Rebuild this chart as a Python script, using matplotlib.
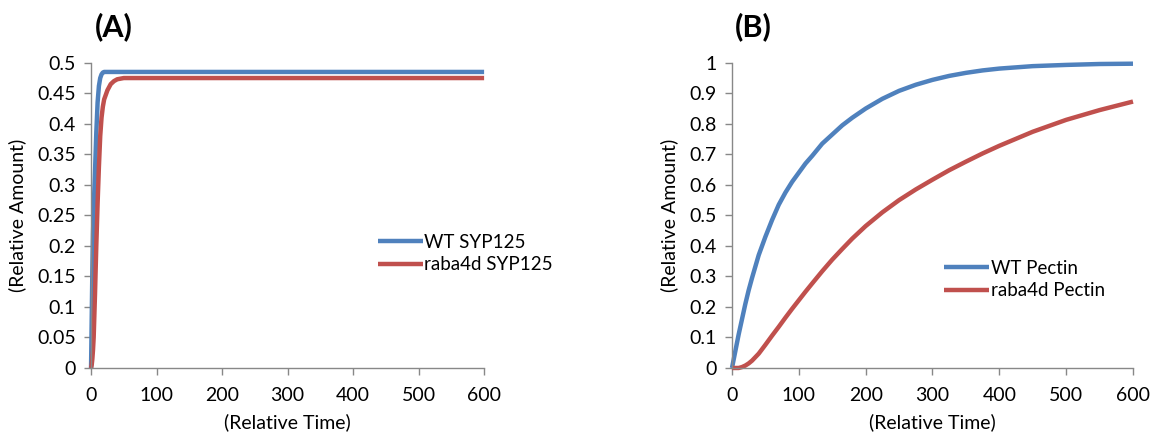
import matplotlib
matplotlib.use("Agg")
import matplotlib.pyplot as plt

plt.rcParams["font.family"] = ["Lato", "DejaVu Sans"]

# Panel A: SYP125
t_a = [0, 1, 2, 3, 4, 5, 6, 8, 10, 12, 14, 16, 18, 20, 25, 30, 35, 40, 50, 60, 100, 200, 300, 400, 500, 600]
wt_syp = [0, 0.08, 0.16, 0.22, 0.26, 0.29, 0.32, 0.385, 0.435, 0.462, 0.475, 0.481, 0.484, 0.485, 0.485,
          0.485, 0.485, 0.485, 0.485, 0.485, 0.485, 0.485, 0.485, 0.485, 0.485, 0.485]
raba_syp = [0, 0.005, 0.015, 0.03, 0.05, 0.085, 0.12, 0.2, 0.27, 0.33, 0.38, 0.41, 0.428, 0.44, 0.455,
            0.465, 0.47, 0.473, 0.475, 0.475, 0.475, 0.475, 0.475, 0.475, 0.475, 0.475]

# Panel B: Pectin
t_b = [0, 5, 10, 15, 20, 25, 30, 40, 50, 60, 70, 80, 90, 100, 110, 120, 135, 150, 165, 180, 200, 225,
       250, 275, 300, 325, 350, 375, 400, 450, 500, 550, 600]
wt_pectin = [0, 0.055, 0.11, 0.16, 0.21, 0.255, 0.295, 0.37, 0.43, 0.485, 0.535, 0.575, 0.61, 0.64, 0.67,
             0.695, 0.735, 0.765, 0.795, 0.82, 0.85, 0.882, 0.908, 0.928, 0.944, 0.957, 0.967, 0.975,
             0.981, 0.989, 0.993, 0.996, 0.997]
raba_pectin = [0, 0.0, 0.0, 0.003, 0.008, 0.015, 0.024, 0.047, 0.076, 0.106, 0.135, 0.165, 0.194, 0.222,
               0.25, 0.277, 0.317, 0.355, 0.39, 0.424, 0.465, 0.51, 0.55, 0.585, 0.617, 0.648, 0.676,
               0.703, 0.728, 0.774, 0.813, 0.845, 0.873]

blue = "#4F81BD"
red = "#C0504D"
axis_gray = "#888888"
font_size = 14

fig = plt.figure(figsize=(11.54, 4.36), dpi=100)
ax_a = fig.add_axes([0.0789, 0.156, 0.3406, 0.70])
ax_b = fig.add_axes([0.6343, 0.156, 0.3475, 0.70])


def style_axis(ax, yticks, ylabels):
	ax.set_xlim(0, 600)
	ax.set_xticks(range(0, 601, 100))
	ax.set_ylim(0, yticks[-1])
	ax.set_yticks(yticks)
	ax.set_yticklabels(ylabels)
	for side in ["top", "right"]:
		ax.spines[side].set_visible(False)
	for side in ["left", "bottom"]:
		ax.spines[side].set_color(axis_gray)
		ax.spines[side].set_linewidth(1.0)
	ax.tick_params(direction="out", length=5, width=1.0, color=axis_gray, labelsize=font_size, labelcolor="black")
	ax.tick_params(axis="x", pad=9)
	ax.tick_params(axis="y", pad=6)
	ax.set_xlabel("(Relative Time)", fontsize=font_size, labelpad=6)
	ax.set_ylabel("(Relative Amount)", fontsize=font_size, labelpad=8)


ax_a.plot(t_a, wt_syp, color=blue, lw=3.2, label="WT SYP125", solid_capstyle="butt", clip_on=False)
ax_a.plot(t_a, raba_syp, color=red, lw=3.2, label="raba4d SYP125", solid_capstyle="butt", clip_on=False)
style_axis(ax_a, [0, 0.05, 0.1, 0.15, 0.2, 0.25, 0.3, 0.35, 0.4, 0.45, 0.5],
           ["0", "0.05", "0.1", "0.15", "0.2", "0.25", "0.3", "0.35", "0.4", "0.45", "0.5"])
ax_a.legend(loc="upper left", bbox_to_anchor=(0.71, 0.465), frameon=False, fontsize=13.5,
            handlelength=2.4, handletextpad=0.1, labelspacing=0.3, borderaxespad=0)

ax_b.plot(t_b, wt_pectin, color=blue, lw=3.2, label="WT Pectin", solid_capstyle="butt", clip_on=False)
ax_b.plot(t_b, raba_pectin, color=red, lw=3.2, label="raba4d Pectin", solid_capstyle="butt", clip_on=False)
style_axis(ax_b, [0, 0.1, 0.2, 0.3, 0.4, 0.5, 0.6, 0.7, 0.8, 0.9, 1.0],
           ["0", "0.1", "0.2", "0.3", "0.4", "0.5", "0.6", "0.7", "0.8", "0.9", "1"])
ax_b.legend(loc="upper left", bbox_to_anchor=(0.51, 0.38), frameon=False, fontsize=13.5,
            handlelength=2.4, handletextpad=0.1, labelspacing=0.3, borderaxespad=0)

fig.text(95 / 1154, 1 - 27 / 436, "(A)", fontsize=22, fontweight="bold", va="center", ha="left")
fig.text(735 / 1154, 1 - 27 / 436, "(B)", fontsize=22, fontweight="bold", va="center", ha="left")

fig.savefig("out.png", dpi=100)
